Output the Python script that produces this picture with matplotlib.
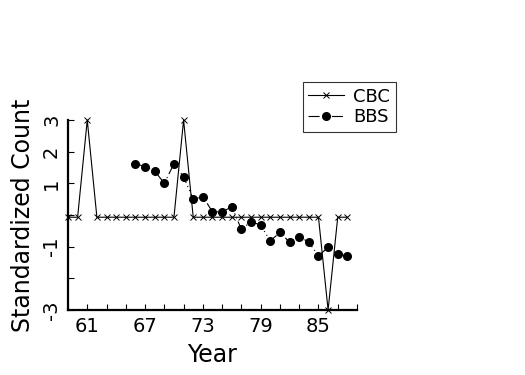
import matplotlib
matplotlib.use('Agg')
import matplotlib.pyplot as plt
from matplotlib.legend_handler import HandlerLine2D

cbc_years = list(range(59, 89))
cbc_values = [-0.07, -0.07, 3.0, -0.07, -0.07, -0.07, -0.07, -0.07, -0.07, -0.07,
              -0.07, -0.07, 3.0, -0.07, -0.07, -0.07, -0.07, -0.07, -0.07, -0.07,
              -0.07, -0.07, -0.07, -0.07, -0.07, -0.07, -0.07, -3.0, -0.07, -0.07]

bbs_years = list(range(66, 89))
bbs_values = [1.62, 1.53, 1.39, 1.0, 1.62, 1.2, 0.5, 0.58, 0.1, 0.1, 0.26, -0.45,
              -0.21, -0.32, -0.82, -0.55, -0.86, -0.68, -0.86, -1.29, -1.02, -1.24, -1.29]

xtick_years = [61, 67, 73, 79, 85]
minor_years = list(range(59, 90, 2))
ytick_values = [-3, -2, -1, 0, 1, 2, 3]
ytick_labels = ['-3', '', '-1', '', '1', '2', '3']

plt.rcParams['font.family'] = ['DejaVu Sans']


class LeftMarkerHandler(HandlerLine2D):
    # put the single legend marker at the left end of the handle
    def get_xdata(self, legend, xdescent, ydescent, width, height, fontsize):
        xdata = [-xdescent, -xdescent + width]
        return xdata, [-xdescent]


fig = plt.figure(figsize=(5.25, 3.75), dpi=100)
ax = fig.add_axes([0.1295, 0.1733, 0.5505, 0.5067])

ax.plot(cbc_years, cbc_values, color='black', linewidth=0.8, marker='x',
        markersize=4, markeredgewidth=0.7, clip_on=False, label='CBC')
ax.plot(bbs_years, bbs_values, color='black', linewidth=0.8,
        linestyle=(0, (10, 3, 1, 3, 1, 3)), marker='o', markersize=5.5,
        clip_on=False, label='BBS')

ax.set_xlim(59, 89)
ax.set_ylim(-3, 3)

ax.spines['top'].set_visible(False)
ax.spines['right'].set_visible(False)
ax.spines['left'].set_linewidth(1.6)
ax.spines['bottom'].set_linewidth(1.6)

ax.set_xticks(xtick_years)
ax.set_xticklabels([str(y) for y in xtick_years], fontsize=14)
ax.set_xticks(minor_years, minor=True)
ax.set_yticks(ytick_values)
ax.set_yticklabels(ytick_labels, fontsize=14, rotation=90, va='center')
ax.tick_params(axis='both', which='both', direction='in', length=4, width=0.8)
ax.tick_params(axis='x', pad=5)
ax.tick_params(axis='y', pad=5)

ax.set_xlabel('Year', fontsize=17, labelpad=5)
ax.set_ylabel('Standardized Count', fontsize=17, labelpad=5)

leg = ax.legend(loc='upper left', bbox_to_anchor=(0.577, 0.781),
                bbox_transform=fig.transFigure, borderaxespad=0, fontsize=13,
                fancybox=False, frameon=True, handlelength=2.0, handletextpad=0.5,
                borderpad=0.3, labelspacing=0.15, numpoints=1,
                handler_map={matplotlib.lines.Line2D: LeftMarkerHandler()})
leg.get_frame().set_edgecolor('black')
leg.get_frame().set_linewidth(0.8)

plt.savefig('out.png', dpi=100)
